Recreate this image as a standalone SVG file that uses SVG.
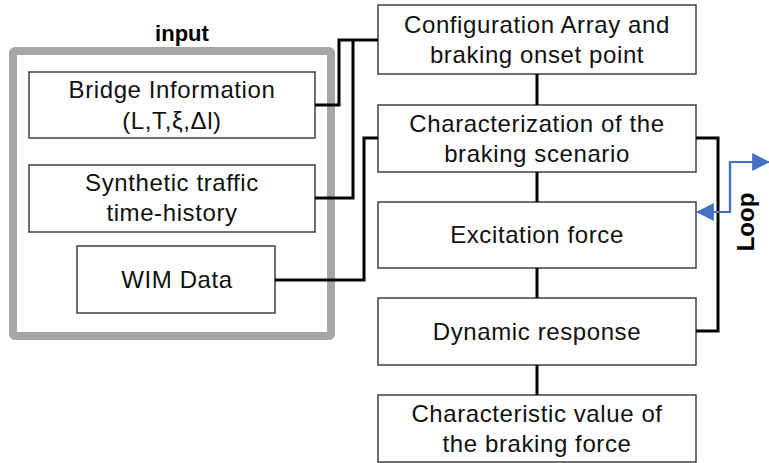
<svg xmlns="http://www.w3.org/2000/svg" width="769" height="463" viewBox="0 0 769 463">
<style>
.box{fill:#fff;stroke:#404040;stroke-width:1.5}
.t{font-family:"Liberation Sans",Arial,sans-serif;font-size:24px;letter-spacing:0.6px;fill:#111;text-anchor:middle}
.b{font-family:"Liberation Sans",Arial,sans-serif;font-size:22px;font-weight:bold;fill:#000;text-anchor:middle}
.c{fill:none;stroke:#000;stroke-width:3}
.blue{fill:none;stroke:#4472C4;stroke-width:2.2}
</style>
<defs>
<marker id="ah" markerUnits="userSpaceOnUse" markerWidth="18" markerHeight="18" viewBox="0 0 16 16" refX="15" refY="8" orient="auto">
<path d="M0,0 L16,8 L0,16 Z" fill="#4472C4"/>
</marker>
</defs>
<rect width="769" height="463" fill="#fff"/>
<g id="input">
<rect x="13" y="51" width="318" height="285" fill="none" stroke="#A6A6A6" stroke-width="8" rx="2"/>
<text class="b" x="182" y="41">input</text>
</g>
<g id="bridge">
<rect class="box" x="29" y="72" width="286" height="66"/>
<text class="t" x="172" y="98">Bridge Information</text>
<text class="t" x="172" y="129">(L,T,ξ,Δl)</text>
</g>
<g id="synthetic">
<rect class="box" x="29" y="165" width="286" height="67"/>
<text class="t" x="172" y="191">Synthetic traffic</text>
<text class="t" x="172" y="221">time-history</text>
</g>
<g id="wim">
<rect class="box" x="77" y="246" width="198" height="67"/>
<text class="t" x="177" y="288">WIM Data</text>
</g>
<g id="config">
<rect class="box" x="378" y="5" width="318" height="69"/>
<text class="t" x="537" y="33">Configuration Array and</text>
<text class="t" x="537" y="63">braking onset point</text>
</g>
<g id="characterization">
<rect class="box" x="378" y="105" width="318" height="67"/>
<text class="t" x="537" y="132">Characterization of the</text>
<text class="t" x="537" y="162">braking scenario</text>
</g>
<g id="excitation">
<rect class="box" x="378" y="202" width="318" height="66"/>
<text class="t" x="537" y="243">Excitation force</text>
</g>
<g id="dynamic">
<rect class="box" x="378" y="298" width="318" height="67"/>
<text class="t" x="537" y="340">Dynamic response</text>
</g>
<g id="characteristic">
<rect class="box" x="378" y="395" width="318" height="67"/>
<text class="t" x="537" y="422">Characteristic value of</text>
<text class="t" x="537" y="452">the braking force</text>
</g>
<g id="connectors">
<polyline class="c" points="315,105 339,105 339,40 378,40"/>
<polyline class="c" points="315,198 353,198 353,40"/>
<polyline class="c" points="275,280 364,280 364,138 378,138"/>
<line class="c" x1="537" y1="74" x2="537" y2="105"/>
<line class="c" x1="537" y1="172" x2="537" y2="202"/>
<line class="c" x1="537" y1="268" x2="537" y2="298"/>
<line class="c" x1="537" y1="365" x2="537" y2="395"/>
<polyline class="c" points="696,138 718,138 718,331 696,331"/>
<polyline class="blue" points="730,212 730,162 769,162" marker-end="url(#ah)"/>
<polyline class="blue" points="730,162 730,212 697,212" marker-end="url(#ah)"/>
</g>
<text class="b" style="font-size:24px" transform="translate(754,222) rotate(-90)">Loop</text>
</svg>
